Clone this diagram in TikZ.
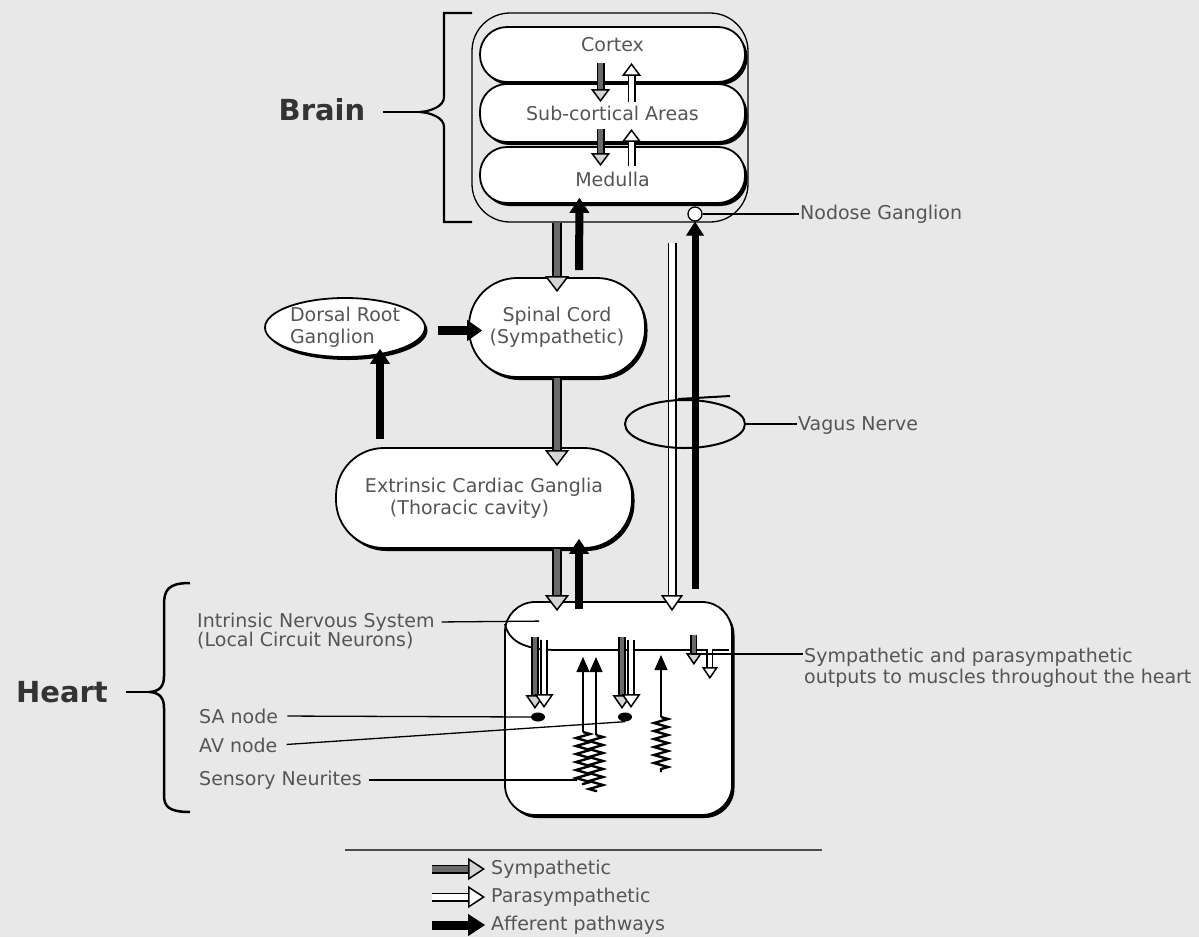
\documentclass[tikz,border=0pt]{standalone}
\usepackage{fontspec}
\setmainfont{DejaVu Sans}
\usepackage{tikz}
\usetikzlibrary{calc}
\usetikzlibrary{shapes}
\usetikzlibrary{arrows.meta}
\usetikzlibrary{shadows}
\usetikzlibrary{decorations.pathmorphing}
\definecolor{bg}{RGB}{232,232,232}
\definecolor{txt}{RGB}{85,85,85}
\definecolor{symgray}{RGB}{105,105,105}
\definecolor{headgray}{RGB}{212,212,212}
\newcommand{\lbl}{\fontsize{19}{22}\selectfont}
\newcommand{\symarrow}[5]{ \draw[line width=#3, shorten >=#5-2pt] (#1) -- (#2); \draw[line width=1.5pt, -{Triangle[length=#5, width=#4, fill=headgray]}] (#1) -- (#2); \draw[line width=#3-3.5pt, symgray, shorten >=#5+0.5pt] (#1) -- (#2);}
\newcommand{\paraarrow}[5]{ \draw[line width=#3, shorten >=#5-2pt] (#1) -- (#2); \draw[line width=1.5pt, -{Triangle[length=#5, width=#4, fill=white]}] (#1) -- (#2); \draw[line width=#3-3.5pt, white, shorten >=#5+0.5pt] (#1) -- (#2);}
\newcommand{\affarrow}[5]{ \draw[line width=#3, -{Triangle[length=#5, width=#4, line width=1pt]}] (#1) -- (#2);}

\begin{document}
\begin{tikzpicture}[x=1pt, y=-1pt,
    pill/.style={draw, line width=1.8pt, fill=white, rounded corners=#1, drop shadow={shadow xshift=2.5pt, shadow yshift=-3pt, opacity=1, fill=black}, text=txt, font=\lbl, inner sep=0pt},
    tag/.style={text=txt, font=\lbl, inner sep=1pt},
    bigtag/.style={text=black!80, font=\fontsize{29}{34}\selectfont\bfseries, inner sep=2pt},
    lead/.style={line width=1.3pt},
    neurite/.style={line width=2.4pt, decorate, decoration={zigzag, segment length=8pt, amplitude=7pt}},
    blob/.style={ellipse, fill=black, minimum width=14pt, minimum height=9pt, inner sep=0pt}]
    \fill[bg] (0,0) rectangle (1199,937);
    %
    \node[draw, line width=1.3pt, rounded corners=38pt, minimum width=276pt, minimum height=209pt] (brainbox) at (610,117.5) {};
    \node[pill=27pt, minimum width=265pt, minimum height=55pt, text depth=20pt] (cortex) at (612.5,54.5) {Cortex};
    \node[pill=27pt, minimum width=265pt, minimum height=58pt] (sub) at (612.5,113) {Sub-cortical Areas};
    \node[pill=27pt, minimum width=265pt, minimum height=56pt, text height=24pt] (med) at (612.5,175) {Medulla};

    \symarrow{$(cortex.south)+(-12,-20)$}{$(sub.north)+(-12,19)$}{8pt}{19pt}{13pt}
    \paraarrow{$(sub.north)+(19,19)$}{$(cortex.south)+(19,-20)$}{8pt}{19pt}{13pt}
    \symarrow{$(sub.south)+(-12,-14)$}{$(med.north)+(-12,20)$}{8pt}{19pt}{13pt}
    \paraarrow{$(med.north)+(19,20)$}{$(sub.south)+(19,-14)$}{8pt}{19pt}{13pt}

    \draw[line width=2.2pt] (472,13) -- (444,13) -- (444,97) .. controls (444,106) and (432,111) .. (420,112) .. controls (432,113) and (444,118) .. (444,127) -- (444,222) -- (472,222);
    \node[bigtag] (brainlab) at (322,110) {Brain};
    \coordinate (braintip) at (420,112);
    \draw[line width=2.2pt, shorten <=16pt] (braintip -| brainlab.east) -- (braintip);

    \node[circle, draw, fill=white, line width=1.3pt, minimum size=14pt, inner sep=0pt] (nodose) at (695,214) {};
    \node[tag, anchor=west] (nodlab) at (799,214) {Nodose Ganglion};
    \draw[lead] (nodose) -- (nodlab);
    %
    \node[pill=48pt, minimum width=176pt, minimum height=99pt, align=center] (spinal) at (557,327.5) {Spinal Cord\\(Sympathetic)};
    \node[pill=0pt, ellipse, minimum width=160pt, minimum height=59pt, align=left] (dorsal) at (345,327.5) {Dorsal Root\\Ganglion};
    \node[pill=48pt, minimum width=296pt, minimum height=100pt, align=left] (ext) at (484,498) {Extrinsic Cardiac Ganglia\\\hspace{25pt}(Thoracic cavity)};

    \symarrow{$(brainbox.south)+(-53,0)$}{$(spinal.north)+(0,15)$}{10pt}{24pt}{16pt}
    \affarrow{$(spinal.north)+(22,-7)$}{$(med.south)+(-33,-6)$}{8pt}{20pt}{15pt}
    \symarrow{spinal.south}{$(ext.north)+(73,19)$}{10pt}{24pt}{16pt}
    \affarrow{$(dorsal.east)+(12,3)$}{$(spinal.west)+(14,3)$}{9pt}{21pt}{15pt}
    \affarrow{$(ext.north)+(-104,-8)$}{$(dorsal.south)+(35,-9)$}{8pt}{20pt}{15pt}
    %
    \node[draw, line width=1.8pt, fill=white, rounded corners=30pt, minimum width=227pt, minimum height=213pt, drop shadow={shadow xshift=2.5pt, shadow yshift=-3pt, opacity=1, fill=black}] (heart) at (618.5,708.5) {};
    \draw[line width=1.8pt] (505,624) .. controls (509,644) and (530,650) .. (558,650) -- (729,650);

    \symarrow{$(ext.south)+(73,0)$}{$(heart.north)+(-61.5,10)$}{10pt}{24pt}{16pt}
    \affarrow{$(heart.north)+(-39.5,8)$}{$(ext.south)+(95,-10)$}{8pt}{20pt}{15pt}
    \paraarrow{$(brainbox.south)+(62,20)$}{$(heart.north)+(53.5,10)$}{9pt}{22pt}{16pt}
    \affarrow{$(heart.north)+(76.5,-12)$}{nodose.south}{7pt}{18pt}{14pt}

    \node[ellipse, draw, line width=2pt, minimum width=120pt, minimum height=48pt, inner sep=0pt] (loop) at (685,424) {};
    \draw[line width=2pt] ($(loop.north)+(-7,0)$) -- ($(loop.north)+(45,-3)$);
    \node[tag, anchor=west] (vaglab) at (797,426) {Vagus Nerve};
    \draw[lead] (loop.east) -- (loop.east -| vaglab.west);
    %
    \node[blob] (sa) at (538,717) {};
    \node[blob] (av) at (625,717) {};
    \symarrow{$(sa)+(-3,-80)$}{$(sa)+(-3,-8)$}{8pt}{19pt}{14pt}
    \paraarrow{$(sa)+(6,-77)$}{$(sa)+(6,-9)$}{8pt}{19pt}{14pt}
    \symarrow{$(av)+(-3,-80)$}{$(av)+(-3,-8)$}{8pt}{19pt}{14pt}
    \paraarrow{$(av)+(6,-77)$}{$(av)+(6,-9)$}{8pt}{19pt}{14pt}
    \symarrow{$(heart.north east)+(-39,34)$}{$(heart.north east)+(-39,64)$}{7pt}{16pt}{12pt}
    \paraarrow{$(heart.north east)+(-23,48)$}{$(heart.north east)+(-23,78)$}{7pt}{16pt}{12pt}

    \coordinate (coilA) at ($(sa)+(45,15)$);
    \coordinate (coilB) at ($(sa)+(58,18)$);
    \coordinate (coilC) at ($(av)+(36,0)$);
    \draw[neurite] (coilA) -- ++(0,53);
    \draw[neurite] (coilB) -- ++(0,57);
    \draw[neurite] (coilC) -- ++(0,55);
    \affarrow{coilA}{$(coilA)+(0,-75)$}{2pt}{13pt}{15pt}
    \affarrow{coilB}{$(coilB)+(0,-78)$}{2pt}{13pt}{15pt}
    \affarrow{coilC}{$(coilC)+(0,-62)$}{2pt}{13pt}{15pt}
    %
    \draw[line width=2.5pt] (190,583) .. controls (168,583) and (164,590) .. (164,605) -- (164,676) .. controls (164,686) and (160,691) .. (150,692) .. controls (160,693) and (164,698) .. (164,708) -- (164,795) .. controls (164,806) and (168,812) .. (190,812);
    \node[bigtag] (heartlab) at (62,692) {Heart};
    \coordinate (hearttip) at (150,692);
    \draw[line width=2.2pt, shorten <=16pt] (hearttip -| heartlab.east) -- (hearttip);

    \node[tag, anchor=west] (ins1) at (196,622) {Intrinsic Nervous System};
    \node[tag, anchor=west] (ins2) at (196,641) {(Local Circuit Neurons)};
    \node[tag, anchor=west] (salab) at (198,716) {SA node};
    \node[tag, anchor=west] (avlab) at (198,745) {AV node};
    \node[tag, anchor=west] (senlab) at (198,780) {Sensory Neurites};
    \coordinate (insend) at ($(heart.north west)+(35,20)$);
    \coordinate (senend) at ($(coilA)+(-6,48)$);
    \draw[lead, shorten <=6pt] (ins1.east) -- (insend);
    \draw[lead, shorten <=8pt] (salab.east) -- (sa.west);
    \draw[lead, shorten <=8pt] (avlab.east) -- (av.south);
    \draw[lead, shorten <=6pt] (senlab.east) -- (senend);

    \node[tag, anchor=west] (out1) at (803,657) {Sympathetic and parasympathetic};
    \node[tag, anchor=west] (out2) at (803,678) {outputs to muscles throughout the heart};
    \coordinate (outs) at ($(heart.north east)+(-42,53)$);
    \draw[lead] (outs) -- (outs -| out1.west);
    %
    \draw[line width=2pt, black!70] (345,850) -- (822,850);
    \node[tag, anchor=west] (lsym) at (490,869) {Sympathetic};
    \node[tag, anchor=west] (lpara) at (490,897) {Parasympathetic};
    \node[tag, anchor=west] (laff) at (490,925) {Afferent pathways};
    \symarrow{$(lsym.west)+(-58,0)$}{$(lsym.west)+(-5,0)$}{9pt}{22pt}{17pt}
    \paraarrow{$(lpara.west)+(-58,0)$}{$(lpara.west)+(-5,0)$}{9pt}{22pt}{17pt}
    \affarrow{$(laff.west)+(-58,0)$}{$(laff.west)+(-5,0)$}{9pt}{22pt}{17pt}
\end{tikzpicture}
\end{document}
